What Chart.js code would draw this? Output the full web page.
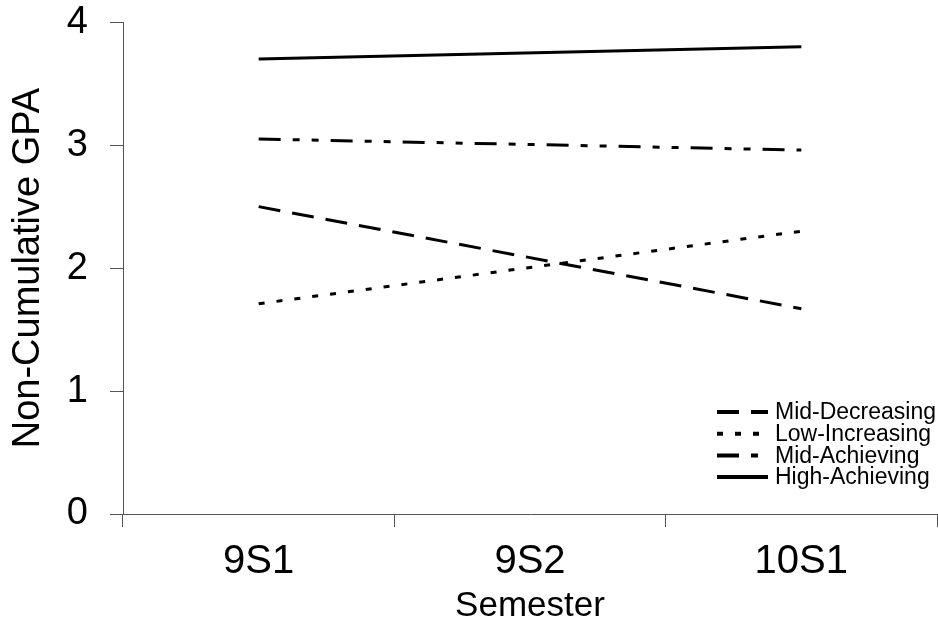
<!DOCTYPE html>
<html>
<head>
<meta charset="utf-8">
<title>Non-Cumulative GPA by Semester</title>
<script src="https://cdn.jsdelivr.net/npm/chart.js@4/dist/chart.umd.min.js"></script>
<style>
  html, body { margin: 0; padding: 0; background: #fff; }
  #wrap { width: 938px; height: 624px; }
</style>
</head>
<body>
<div id="wrap"><canvas id="gpaChart"></canvas></div>
<script>
// data (only first and last semester are plotted)
const semesters = ["9S1", "9S2", "10S1"];
const groupNames = ["Mid-Decreasing", "Low-Increasing", "Mid-Achieving", "High-Achieving"];
const midDecreasing = [2.5, null, 1.67];
const lowIncreasing = [1.71, null, 2.3];
const midAchieving = [3.05, null, 2.96];
const highAchieving = [3.7, null, 3.8];
const yTicks = [0, 1, 2, 3, 4];

const FONT = "'Liberation Sans', Arial, sans-serif";
const AXIS = "#555";

// legend drawn inside the plot, bottom right, like the original
const insideLegend = {
  id: "insideLegend",
  afterDatasetsDraw(chart) {
    const { ctx, chartArea } = chart;
    const x0 = chartArea.right - 220;
    const y0 = chartArea.bottom - 102;
    ctx.save();
    ctx.font = "23px " + FONT;
    ctx.textBaseline = "middle";
    ctx.fillStyle = "#000";
    chart.data.datasets.forEach(function (ds, i) {
      const y = y0 + i * 21.7;
      ctx.beginPath();
      ctx.setLineDash(ds.borderDash || []);
      ctx.lineWidth = 4;
      ctx.strokeStyle = "#000";
      ctx.moveTo(x0, y);
      ctx.lineTo(x0 + 51, y);
      ctx.stroke();
      ctx.fillText(ds.label, x0 + 58, y + 1);
    });
    ctx.restore();
  }
};

const seriesValues = [midDecreasing, lowIncreasing, midAchieving, highAchieving];
const dashes = [[22, 12], [6, 12], [22, 12, 7, 12, 7, 12], []];

new Chart(document.getElementById("gpaChart").getContext("2d"), {
  type: "line",
  data: {
    labels: semesters,
    datasets: groupNames.map(function (name, i) {
      return {
        label: name,
        data: seriesValues[i],
        borderColor: "#000",
        borderWidth: 3,
        borderDash: dashes[i],
        pointRadius: 0,
        spanGaps: true,
        tension: 0
      };
    })
  },
  options: {
    responsive: true,
    maintainAspectRatio: false,
    animation: false,
    layout: { padding: { top: 0, right: 1, left: 0, bottom: 0 } },
    plugins: {
      legend: { display: false },
      tooltip: { enabled: false }
    },
    scales: {
      x: {
        offset: true,
        grid: { display: true, drawOnChartArea: false, drawTicks: true, tickLength: 13, color: AXIS, offset: true },
        border: { display: true, color: AXIS, width: 1 },
        ticks: { color: "#000", font: { family: FONT, size: 40 }, padding: 11, maxRotation: 0 },
        title: { display: true, text: "Semester", color: "#000", font: { family: FONT, size: 35, lineHeight: 1 }, padding: { top: 0, bottom: 0 } },
        afterFit: function (scale) { scale.height = 110; }
      },
      y: {
        min: 0,
        max: 4,
        afterBuildTicks: function (scale) { scale.ticks = yTicks.map(function (v) { return { value: v }; }); },
        grid: { display: true, drawOnChartArea: false, drawTicks: true, tickLength: 13, color: AXIS },
        border: { display: true, color: AXIS, width: 1 },
        ticks: { color: "#000", font: { family: FONT, size: 38, lineHeight: 0.01 }, padding: 22 },
        title: { display: true, text: "Non-Cumulative GPA", color: "#000", font: { family: FONT, size: 38, lineHeight: 1 }, padding: { top: 10, bottom: 0 } },
        afterFit: function (scale) { scale.width = 123; }
      }
    }
  },
  plugins: [insideLegend]
});
</script>
</body>
</html>
